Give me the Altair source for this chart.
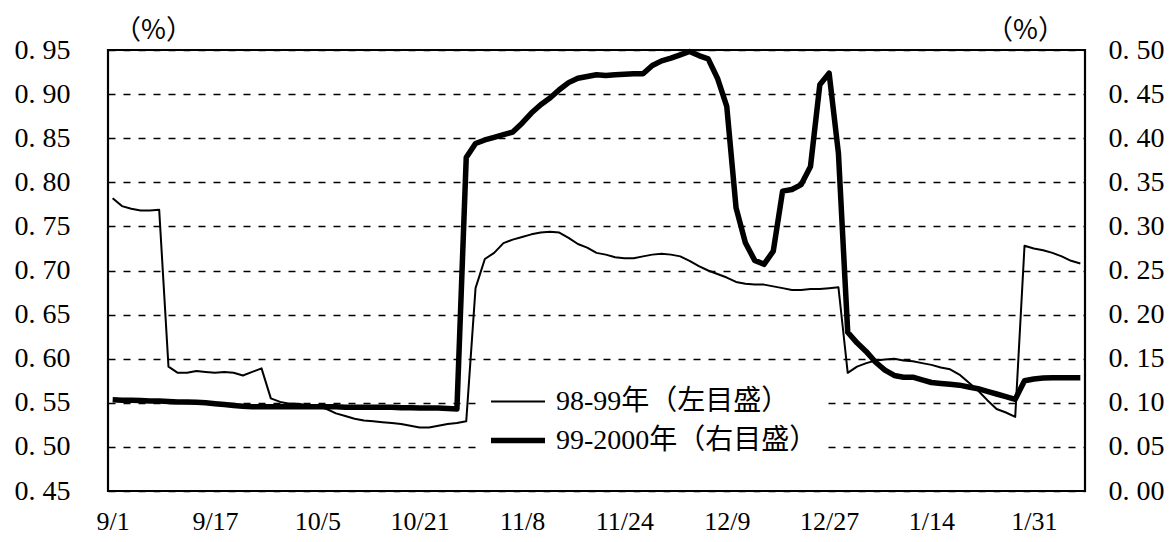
import altair as alt
import pandas as pd

# 98-99 (left axis, %)
thin_vals = [
    0.782, 0.773, 0.770, 0.768, 0.768, 0.769, 0.591, 0.584, 0.584, 0.586,
    0.585, 0.584, 0.585, 0.584, 0.581, 0.585, 0.589, 0.555, 0.551, 0.549,
    0.549, 0.547, 0.546, 0.543, 0.538, 0.535, 0.532, 0.530, 0.529, 0.528,
    0.527, 0.526, 0.524, 0.522, 0.522, 0.524, 0.526, 0.527, 0.529, 0.680,
    0.713, 0.720, 0.731, 0.735, 0.738, 0.741, 0.743, 0.744, 0.743, 0.737,
    0.730, 0.726, 0.720, 0.718, 0.715, 0.714, 0.714, 0.716, 0.718, 0.719,
    0.718, 0.716, 0.711, 0.705, 0.700, 0.696, 0.692, 0.687, 0.685, 0.684,
    0.684, 0.682, 0.680, 0.678, 0.678, 0.679, 0.679, 0.680, 0.681, 0.584,
    0.591, 0.595, 0.598, 0.599, 0.600, 0.598, 0.597, 0.595, 0.593, 0.590,
    0.588, 0.582, 0.573, 0.564, 0.553, 0.543, 0.539, 0.534, 0.728, 0.725,
    0.723, 0.720, 0.716, 0.711, 0.708,
]

# 99-2000 (right axis, %)
thick_vals = [
    0.1035, 0.103, 0.103, 0.1025, 0.102, 0.102, 0.1015, 0.101, 0.101, 0.1005,
    0.100, 0.099, 0.098, 0.097, 0.096, 0.0955, 0.0955, 0.0955, 0.0955, 0.0955,
    0.0955, 0.0955, 0.0955, 0.0955, 0.0955, 0.095, 0.095, 0.095, 0.095, 0.095,
    0.095, 0.0945, 0.0945, 0.094, 0.094, 0.094, 0.0935, 0.093,
    0.378, 0.394, 0.398, 0.401, 0.404, 0.407, 0.417, 0.4285, 0.438, 0.4455,
    0.455, 0.463, 0.468, 0.470, 0.472, 0.471, 0.472, 0.4725, 0.473, 0.473,
    0.4824, 0.4877, 0.4907, 0.4945, 0.4983, 0.4937, 0.490, 0.468, 0.436, 0.321,
    0.2814, 0.2615, 0.257, 0.272, 0.340, 0.3418, 0.3474, 0.368, 0.4606, 0.4738,
    0.383, 0.180, 0.168, 0.158, 0.146, 0.137, 0.131, 0.129, 0.129, 0.126,
    0.123, 0.122, 0.121, 0.120, 0.118, 0.116, 0.113, 0.110, 0.107, 0.104,
    0.125, 0.127, 0.128, 0.1285, 0.1285, 0.1285, 0.1285,
]

x_labels = ["9/1", "9/17", "10/5", "10/21", "11/8", "11/24", "12/9", "12/27", "1/14", "1/31"]
label_step = 11  # business days between labels

series_names = ["98-99年（左目盛）", "99-2000年（右目盛）"]
left_ticks = [0.45, 0.50, 0.55, 0.60, 0.65, 0.70, 0.75, 0.80, 0.85, 0.90, 0.95]
right_ticks = [0.00, 0.05, 0.10, 0.15, 0.20, 0.25, 0.30, 0.35, 0.40, 0.45, 0.50]

df_thin = pd.DataFrame({"i": range(len(thin_vals)), "v": thin_vals, "s": series_names[0]})
df_thick = pd.DataFrame({"i": range(len(thick_vals)), "v": thick_vals, "s": series_names[1]})

num_font = "'Liberation Serif', 'DejaVu Serif', serif"
cjk_font = "'Liberation Serif', 'Noto Sans CJK JP', serif"
lab_expr_num = "replace(format(datum.value, '.2f'), '.', '. ')"
x_expr = "[" + ",".join("'" + l + "'" for l in x_labels) + "][round(datum.value/%d)]" % label_step

x_enc = alt.X(
    "i:Q",
    scale=alt.Scale(domain=[-0.5, len(thin_vals) - 0.5], nice=False, zero=False),
    axis=alt.Axis(
        values=[k * label_step for k in range(len(x_labels))],
        labelExpr=x_expr,
        grid=False, ticks=False, tickSize=0, domain=False,
        labelPadding=17, labelFont=num_font, labelFontSize=26, labelColor="black",
        title=None,
    ),
)

sw = alt.StrokeWidth(
    "s:N",
    scale=alt.Scale(domain=series_names, range=[2, 5.5]),
    legend=alt.Legend(
        orient="none", legendX=370, legendY=323, direction="vertical",
        fillColor="white", padding=10, title=None,
        symbolType="stroke", symbolSize=2916, symbolStrokeColor="black",
        labelFont=cjk_font, labelFontSize=28,
        labelColor="black", labelOffset=8, labelLimit=400,
        clipHeight=37, rowPadding=2,
    ),
)

title_kw = dict(
    titleAngle=0, titleY=-20, titleAlign="center", titleBaseline="middle",
    titleFont="'Noto Sans CJK JP', sans-serif", titleFontSize=27,
    titleFontWeight="normal", titleColor="black",
)

left = alt.Chart(df_thin).mark_line(color="black", strokeJoin="round").encode(
    x=x_enc,
    y=alt.Y(
        "v:Q",
        scale=alt.Scale(domain=[0.45, 0.95], nice=False, zero=False),
        axis=alt.Axis(
            orient="left", values=left_ticks, labelExpr=lab_expr_num,
            grid=True, gridDash=[7, 8], gridColor="black", gridWidth=1.3,
            ticks=False, tickSize=0, domain=False, labelPadding=38,
            labelFont=num_font, labelFontSize=28, labelColor="black",
            title="（%）", titleX=45, **title_kw,
        ),
    ),
    strokeWidth=sw,
)

right = alt.Chart(df_thick).mark_line(color="black", strokeJoin="round").encode(
    x=x_enc,
    y=alt.Y(
        "v:Q",
        scale=alt.Scale(domain=[0.0, 0.5], nice=False, zero=False),
        axis=alt.Axis(
            orient="right", values=right_ticks, labelExpr=lab_expr_num,
            grid=False, ticks=False, tickSize=0, domain=False, labelPadding=23,
            labelFont=num_font, labelFontSize=28, labelColor="black",
            title="（%）", titleX=-60, **title_kw,
        ),
    ),
    strokeWidth=sw,
)

chart = (
    alt.layer(left, right)
    .resolve_scale(y="independent")
    .properties(
        width=977, height=441,
        autosize=alt.AutoSizeParams(type="none"),
        padding={"left": 100, "top": 42, "right": 83, "bottom": 43},
        background="white",
    )
    .configure_view(stroke="black", strokeWidth=2.2)
)

chart.save("out.html", embed_options={"renderer": "svg", "actions": False})
